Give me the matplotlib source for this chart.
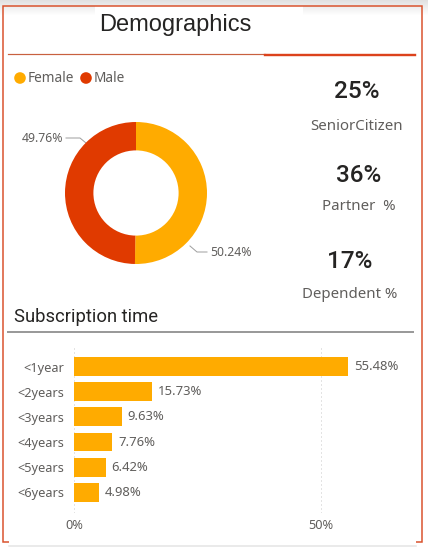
import numpy as np
import matplotlib
matplotlib.use('Agg')
import matplotlib.pyplot as plt
from matplotlib.patches import Rectangle, Circle


W, H = 428, 549

gender_labels = ['Female', 'Male']
gender_share = [50.24, 49.76]
gender_colors = ['#FFAB00', '#E03A00']

kpi_values = ['25%', '36%', '17%']
kpi_labels = ['SeniorCitizen', 'Partner  %', 'Dependent %']

tenure_labels = ['<1year', '<2years', '<3years', '<4years', '<5years', '<6years']
tenure_share = [55.48, 15.73, 9.63, 7.76, 6.42, 4.98]
tenure_ticks = [0, 50]

BAR_COLOR = '#FFAB00'
GRAY_TEXT = '#605E5C'
PX = 0.72  # points per pixel at dpi 100


def frac(x, y, w, h):
    # pixel box (top-left origin) -> figure fraction
    return [x / W, 1 - (y + h) / H, w / W, h / H]


fig = plt.figure(figsize=(W / 100, H / 100), dpi=100)
fig.patch.set_facecolor('white')

# overlay in pixel coordinates
ov = fig.add_axes([0, 0, 1, 1], zorder=0)
ov.set_xlim(0, W)
ov.set_ylim(H, 0)
ov.axis('off')

# shadow at the top of the card
grad = np.linspace(0.88, 1.0, 16).reshape(-1, 1)
ov.imshow(grad, cmap='gray', vmin=0, vmax=1, extent=(0, W, 16, 0), aspect='auto', zorder=0)
ov.add_patch(Rectangle((95, 6), 208, 12, facecolor='white', edgecolor='none', zorder=1))

# card border
ov.add_patch(Rectangle((3.5, 5.5), 418.5, 536.5, facecolor='none', edgecolor='#D9502A',
                       linewidth=1.5 * PX, zorder=2))
ov.add_patch(Rectangle((9, 536), 407, 9, facecolor='white', edgecolor='none', zorder=3))
ov.plot([9, 416], [546, 546], color='#E4E4E4', linewidth=1.5 * PX, zorder=3)

# title
ov.text(175, 25, 'Demographics', fontsize=17, family='Liberation Sans', color='#252423',
        ha='center', va='center', zorder=4)
ov.plot([8, 265], [54.3, 54.3], color='#C8603F', linewidth=1.2 * PX, zorder=4)
ov.plot([265, 415], [55.3, 55.3], color='#DC421C', linewidth=2.4 * PX, zorder=4)

# legend
leg_x = [20, 86]
for lx, lab, col in zip(leg_x, gender_labels, gender_colors):
    ov.add_patch(Circle((lx, 78), 5.8, facecolor=col, edgecolor='none', zorder=4))
    ov.text(lx + 8, 78, lab, fontsize=9.8, family='Noto Sans', color=GRAY_TEXT,
            ha='left', va='center', zorder=4)

# KPI cards
kpi_pos = [(357, 92, 126), (359, 175, 207), (350, 261, 295)]
for (cx, vy, ly), val, lab in zip(kpi_pos, kpi_values, kpi_labels):
    ov.text(cx, vy, val, fontsize=17.5, family='Roboto', weight='medium', color='#252423',
            ha='center', va='center', zorder=4)
    ov.text(cx, ly, lab, fontsize=10.8, family='Noto Sans', color=GRAY_TEXT,
            ha='center', va='center', zorder=4)

# donut
R = 71
cx, cy = 136, 193
dn = fig.add_axes(frac(cx - 75, cy - 75, 150, 150), zorder=2)
dn.pie(gender_share, colors=gender_colors, startangle=90, counterclock=False,
       radius=1, wedgeprops=dict(width=0.4, edgecolor='none'))
dn.set_xlim(-75 / R, 75 / R)
dn.set_ylim(-75 / R, 75 / R)
dn.set_aspect('equal')
dn.axis('off')

# donut data labels with leader lines
ov.plot([66, 80, 86], [138, 138, 143], color='#A0A0A0', linewidth=1 * PX, zorder=4)
ov.text(63, 138, f'{gender_share[1]:.2f}%', fontsize=8.8, family='Noto Sans', color=GRAY_TEXT,
        ha='right', va='center', zorder=4)
ov.plot([190, 197, 207], [246, 252, 252], color='#A0A0A0', linewidth=1 * PX, zorder=4)
ov.text(210, 252, f'{gender_share[0]:.2f}%', fontsize=8.8, family='Noto Sans', color=GRAY_TEXT,
        ha='left', va='center', zorder=4)

# subscription time header
ov.text(14, 317, 'Subscription time', fontsize=13.2, family='Roboto', color='#252423',
        ha='left', va='center', zorder=4)
ov.plot([8, 413], [332, 332], color='#9A9A9A', linewidth=2 * PX, zorder=4)

# bar chart
x0, x50 = 74, 321
ppu = (x50 - x0) / 50.0
y_first, step = 366.7, 25.1
ax_top, ax_bot, ax_right = 347, 513, 420
ax = fig.add_axes(frac(x0, ax_top, ax_right - x0, ax_bot - ax_top), zorder=2)
ax.set_xlim(0, (ax_right - x0) / ppu)
ax.set_ylim((ax_bot - y_first) / step, (ax_top - y_first) / step)
ypos = np.arange(len(tenure_labels))
ax.barh(ypos, tenure_share, height=0.75, color=BAR_COLOR, zorder=2)
for t in tenure_ticks:
    ax.axvline(t, color='#C8C8C8', linestyle=(0, (1, 3)), linewidth=1 * PX, zorder=1)
for y, v in zip(ypos, tenure_share):
    ax.text(v + 6 / ppu, y, f'{v:.2f}%', fontsize=9.4, family='Noto Sans', color=GRAY_TEXT,
            ha='left', va='center')
ax.set_yticks(ypos)
ax.set_yticklabels(tenure_labels, fontsize=9.2, family='Noto Sans', color=GRAY_TEXT)
ax.set_xticks(tenure_ticks)
ax.set_xticklabels([f'{t}%' for t in tenure_ticks], fontsize=9.2, family='Noto Sans',
                   color=GRAY_TEXT)
ax.tick_params(axis='y', length=0, pad=10 * PX)
ax.tick_params(axis='x', length=0, pad=6 * PX)
for s in ax.spines.values():
    s.set_visible(False)
ax.patch.set_alpha(0)

fig.savefig('out.png', dpi=100)
